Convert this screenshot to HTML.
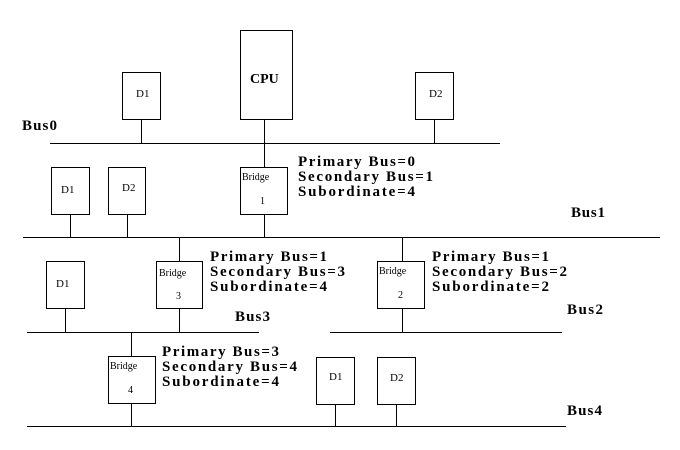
<!DOCTYPE html>
<html><head><meta charset="utf-8"><style>
html,body{margin:0;padding:0;background:#fff;}
svg{display:block;}
.b{font-family:"Liberation Serif",serif;font-weight:bold;font-size:15px;fill:#000;}
.s{font-family:"Liberation Serif",serif;font-size:11px;fill:#000;}
.t{font-family:"Liberation Serif",serif;font-size:10px;fill:#000;}
</style></head><body>
<svg width="680" height="450" viewBox="0 0 680 450" xmlns="http://www.w3.org/2000/svg">
<g stroke="#000" stroke-width="1" fill="none" shape-rendering="crispEdges">
<line x1="50" y1="143.5" x2="500" y2="143.5"/>
<line x1="23" y1="237.5" x2="660" y2="237.5"/>
<line x1="27" y1="332.5" x2="259" y2="332.5"/>
<line x1="330" y1="332.5" x2="562" y2="332.5"/>
<line x1="27" y1="426.5" x2="566" y2="426.5"/>
<rect x="240.5" y="30.5" width="52" height="89"/>
<rect x="122.5" y="72.5" width="38" height="47"/>
<rect x="415.5" y="72.5" width="38" height="47"/>
<line x1="141.5" y1="119" x2="141.5" y2="143"/>
<line x1="434.5" y1="119" x2="434.5" y2="143"/>
<line x1="264.5" y1="119" x2="264.5" y2="167"/>
<rect x="240.5" y="167.5" width="47" height="47"/>
<rect x="51.5" y="167.5" width="38" height="47"/>
<rect x="108.5" y="167.5" width="37" height="47"/>
<line x1="264.5" y1="214" x2="264.5" y2="237"/>
<line x1="70.5" y1="214" x2="70.5" y2="237"/>
<line x1="127.5" y1="214" x2="127.5" y2="237"/>
<line x1="179.5" y1="237" x2="179.5" y2="261"/>
<line x1="402.5" y1="237" x2="402.5" y2="261"/>
<rect x="46.5" y="261.5" width="38" height="47"/>
<rect x="156.5" y="261.5" width="46" height="47"/>
<rect x="377.5" y="261.5" width="47" height="47"/>
<line x1="65.5" y1="308" x2="65.5" y2="332"/>
<line x1="179.5" y1="308" x2="179.5" y2="332"/>
<line x1="402.5" y1="308" x2="402.5" y2="332"/>
<line x1="131.5" y1="332" x2="131.5" y2="356"/>
<rect x="108.5" y="356.5" width="47" height="47"/>
<rect x="316.5" y="357.5" width="38" height="47"/>
<rect x="377.5" y="357.5" width="38" height="47"/>
<line x1="131.5" y1="403" x2="131.5" y2="426"/>
<line x1="335.5" y1="404" x2="335.5" y2="426"/>
<line x1="396.5" y1="404" x2="396.5" y2="426"/>
</g>
<text x="250" y="83" class="b" style="font-size:14px">CPU</text>
<text x="136" y="97" class="s">D1</text>
<text x="429" y="97" class="s">D2</text>
<text x="22" y="130" class="b" textLength="35">Bus0</text>
<text x="61" y="193" class="s">D1</text>
<text x="122" y="191" class="s">D2</text>
<text x="242" y="180" class="t">Bridge</text>
<text x="260" y="204" class="t">1</text>
<text x="298" y="166" class="b" textLength="117">Primary Bus=0</text>
<text x="298" y="181" class="b" textLength="135">Secondary Bus=1</text>
<text x="298" y="196" class="b" textLength="117">Subordinate=4</text>
<text x="571" y="217" class="b" textLength="34">Bus1</text>
<text x="56" y="287" class="s">D1</text>
<text x="159" y="276" class="t">Bridge</text>
<text x="176" y="299" class="t">3</text>
<text x="379" y="274" class="t">Bridge</text>
<text x="398" y="298" class="t">2</text>
<text x="210" y="261" class="b" textLength="117">Primary Bus=1</text>
<text x="210" y="276" class="b" textLength="135">Secondary Bus=3</text>
<text x="210" y="291" class="b" textLength="117">Subordinate=4</text>
<text x="432" y="261" class="b" textLength="117">Primary Bus=1</text>
<text x="432" y="276" class="b" textLength="135">Secondary Bus=2</text>
<text x="432" y="291" class="b" textLength="117">Subordinate=2</text>
<text x="235" y="321" class="b" textLength="35">Bus3</text>
<text x="567" y="314" class="b" textLength="36">Bus2</text>
<text x="110" y="369" class="t">Bridge</text>
<text x="128" y="393" class="t">4</text>
<text x="162" y="356" class="b" textLength="117">Primary Bus=3</text>
<text x="162" y="371" class="b" textLength="135">Secondary Bus=4</text>
<text x="162" y="386" class="b" textLength="117">Subordinate=4</text>
<text x="329" y="380" class="s">D1</text>
<text x="390" y="381" class="s">D2</text>
<text x="567" y="415" class="b" textLength="35">Bus4</text>
</svg>
</body></html>
